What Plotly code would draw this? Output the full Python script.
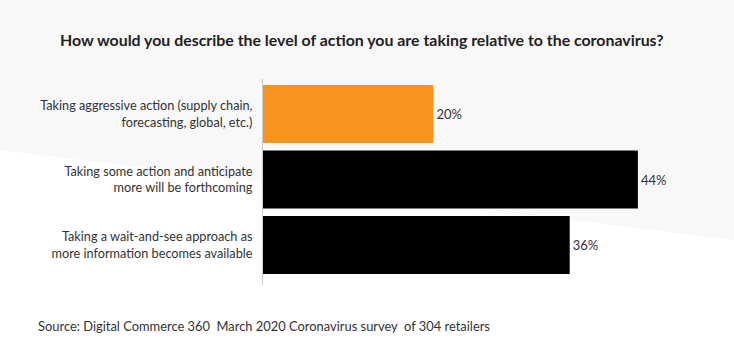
import plotly.graph_objects as go

categories = [
    "Taking aggressive action (supply chain,<br>forecasting, global, etc.)",
    "Taking some action and anticipate<br>more will be forthcoming",
    "Taking a wait-and-see approach as<br>more information becomes available",
]
values = [20, 44, 36]
labels = ["20%", "44%", "36%"]
colors = ["#F7931E", "#000000", "#000000"]

W, H = 734, 363
L, R, T, B = 263, 45, 79, 78
pw, ph = W - L - R, H - T - B

def px(x):
    return (x - L) / pw

def py(y):
    return (H - B - y) / ph

fig = go.Figure(go.Bar(
    y=categories, x=values, orientation="h",
    marker=dict(color=colors, line=dict(width=0)),
    text=labels, textposition="outside", cliponaxis=False,
    textfont=dict(family="Lato", size=13, color="#333333"),
    hoverinfo="skip",
))

path = "M {} {} L {} {} L {} {} L {} {} Z".format(
    px(0), py(0), px(W), py(0), px(W), py(240), px(0), py(150))

fig.update_layout(
    width=W, height=H,
    margin=dict(l=L, r=R, t=T, b=B),
    paper_bgcolor="white", plot_bgcolor="rgba(0,0,0,0)",
    bargap=0.115,
    showlegend=False,
    font=dict(family="Lato", size=13, color="#333333"),
    shapes=[dict(type="path", path=path, xref="paper", yref="paper",
                 fillcolor="#F8F8F8", line=dict(width=0), layer="below")],
    annotations=[
        dict(text="<b>How would you describe the level of action you are taking relative to the coronavirus?</b>",
             x=px(362), y=py(39), xref="paper", yref="paper", showarrow=False,
             xanchor="center", yanchor="middle",
             font=dict(family="Lato", size=15.9, color="#222222")),
        dict(text="Source: Digital Commerce 360  March 2020 Coronavirus survey  of 304 retailers",
             x=px(36), y=py(326), xref="paper", yref="paper", showarrow=False,
             xanchor="left", yanchor="middle",
             font=dict(family="Lato", size=12.9, color="#333333")),
    ],
    xaxis=dict(range=[0, 50], visible=False),
    yaxis=dict(range=[2.61, -0.534], showline=True, linecolor="#CCCCCC", linewidth=1,
               showgrid=False, zeroline=False, ticks="", ticklabelstandoff=7,
               tickfont=dict(family="Lato", size=12.7, color="#333333")),
)

fig.write_html("out.html", config={"displayModeBar": False},
               post_script="document.body.style.margin='0';document.body.style.overflow='hidden';")
